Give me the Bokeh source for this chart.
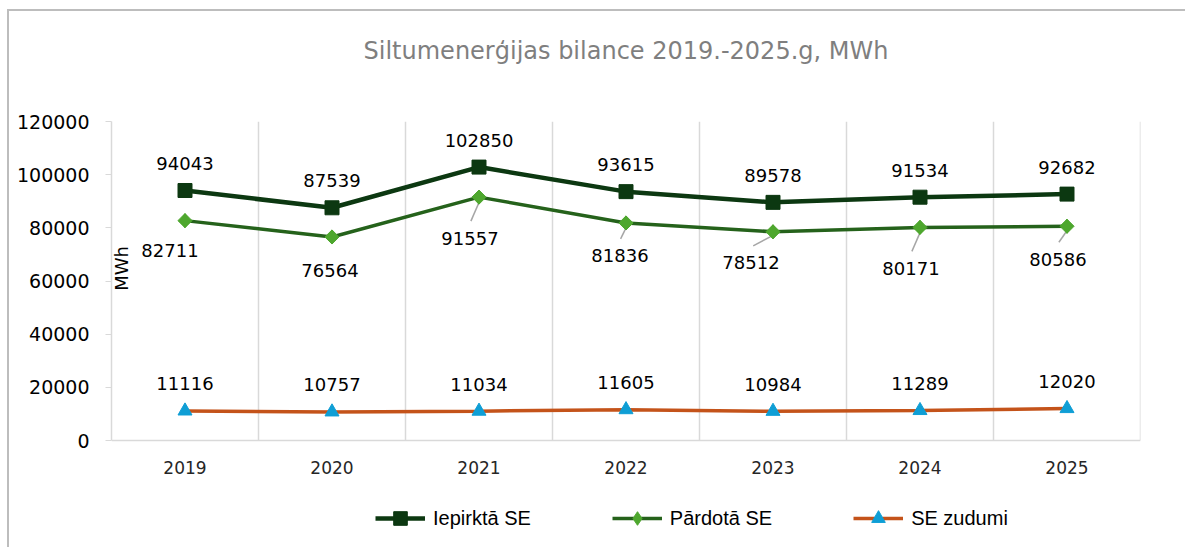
from bokeh.plotting import figure
from bokeh.models import (ColumnDataSource, Range1d, FixedTicker, Legend, LegendItem,
                          BasicTickFormatter, LinearAxis, Label, Span)
from bokeh.core.properties import value
from bokeh.embed import file_html
from bokeh.resources import INLINE

# ---- data ----
years = [2019, 2020, 2021, 2022, 2023, 2024, 2025]
year_labels = ["2019", "2020", "2021", "2022", "2023", "2024", "2025"]
iepirkta = [94043, 87539, 102850, 93615, 89578, 91534, 92682]
pardota = [82711, 76564, 91557, 81836, 78512, 80171, 80586]
zudumi = [11116, 10757, 11034, 11605, 10984, 11289, 12020]
y_ticks = [0, 20000, 40000, 60000, 80000, 100000, 120000]
series_names = ["Iepirktā SE", "Pārdotā SE", "SE zudumi"]
title_text = "Siltumenerģijas bilance 2019.-2025.g, MWh"
y_axis_label = "MWh"

# ---- styling / layout ----
W, H = 1178, 538
ML, MR, MT, MB = 102, 47, 110, 0
PLOT_H = 319                      # pixel height of the 0..120000 value band
EXTRA = H - MT - MB - PLOT_H      # room under the value band for year labels & legend
FONT = "DejaVu Sans"
c_iep_line, c_iep_mark = "#0c3811", "#0c3811"
c_par_line, c_par_mark = "#25621b", "#4ea72e"
c_zud_line, c_zud_mark = "#c4531a", "#0f9ed5"
grid_c = "#d9d9d9"

# label offsets for the "Pārdotā" series (pixels) and leader-line flags
par_dx = [-15, -2, -9, -6, -22, -9, -9]
par_dy = [30, 34, 41, 33, 31, 41, 33]
par_leader = [False, False, True, True, True, True, True]

y_lo = y_ticks[0] - (y_ticks[-1] - y_ticks[0]) * EXTRA / PLOT_H

p = figure(width=W, height=H, output_backend="svg", toolbar_location=None,
           x_axis_location=None,
           x_range=Range1d(years[0] - 0.5, years[-1] + 0.5),
           y_range=Range1d(y_lo, y_ticks[-1]),
           min_border_left=ML, min_border_right=MR, min_border_top=MT, min_border_bottom=MB,
           styles={"border-left": "2px solid #bdbdbd", "border-top": "2px solid #bdbdbd",
                   "margin-left": "7px", "margin-top": "9px"})
p.outline_line_color = None
p.background_fill_color = "white"

# title drawn as the label of a bare axis above the frame
title_axis = LinearAxis(ticker=FixedTicker(ticks=[]), axis_line_color=None,
                        major_tick_line_color=None, minor_tick_line_color=None,
                        axis_label=title_text, axis_label_text_font=FONT,
                        axis_label_text_font_size="24px", axis_label_text_font_style="normal",
                        axis_label_text_color="#7f7f7f", axis_label_standoff=57)
p.add_layout(title_axis, "above")

# y axis
p.yaxis.ticker = FixedTicker(ticks=y_ticks)
p.yaxis.bounds = (y_ticks[0], y_ticks[-1])
p.yaxis.formatter = BasicTickFormatter(use_scientific=False)
p.yaxis.axis_line_color = grid_c
p.yaxis.axis_line_width = 1.5
p.yaxis.major_tick_line_color = grid_c
p.yaxis.major_tick_out = 6
p.yaxis.major_tick_in = 0
p.yaxis.minor_tick_line_color = None
p.yaxis.major_label_text_font = FONT
p.yaxis.major_label_text_font_size = "19px"
p.yaxis.major_label_text_color = "#000000"
p.yaxis.major_label_standoff = 16

p.ygrid.grid_line_color = None
p.xgrid.grid_line_color = None

# category separators (vertical grid) and the category baseline at 0
sep_x = [y + 0.5 for y in years]
p.segment(sep_x, [y_ticks[0]] * len(sep_x), sep_x, [y_ticks[-1]] * len(sep_x),
          line_color=grid_c, line_width=1.5)
p.add_layout(Span(location=y_ticks[0], dimension="width", line_color=grid_c, line_width=1.5))

# category (year) labels under the baseline
p.text(years, [y_ticks[0]] * len(years), text=year_labels, y_offset=27,
       text_align="center", text_baseline="middle", text_font=value(FONT),
       text_font_size="17px", text_color="#262626")

# "MWh" axis title, drawn just inside the plot next to the axis line
p.add_layout(Label(x=10, y=EXTRA + 172, x_units="screen", y_units="screen", text=y_axis_label,
                   angle=90, angle_units="deg", text_align="center", text_baseline="middle",
                   text_font=FONT, text_font_size="18px", text_color="#000000"))

src = ColumnDataSource(dict(
    x=years, iep=iepirkta, par=pardota, zud=zudumi,
    iep_t=[str(v) for v in iepirkta], par_t=[str(v) for v in pardota],
    zud_t=[str(v) for v in zudumi], par_dx=par_dx, par_dy=par_dy))

# leader lines for Pārdotā labels (from marker toward label)
frame_w = W - ML - MR
px_x = (years[-1] - years[0] + 1) / frame_w
px_y = (y_ticks[-1] - y_ticks[0]) / PLOT_H
lx0, ly0, lx1, ly1 = [], [], [], []
for yr, v, dx, dy, f in zip(years, pardota, par_dx, par_dy, par_leader):
    if f:
        lx0.append(yr + 1 * px_x); ly0.append(v - 3 * px_y)
        lx1.append(yr + (dx * 0.9) * px_x); ly1.append(v - (dy - 17) * px_y)
p.segment(lx0, ly0, lx1, ly1, line_color="#a6a6a6", line_width=1.5)

# lines & markers
r1l = p.line("x", "iep", source=src, line_color=c_iep_line, line_width=4.5)
r1m = p.scatter("x", "iep", source=src, marker="square", size=14,
                fill_color=c_iep_mark, line_color=c_iep_mark)
r2l = p.line("x", "par", source=src, line_color=c_par_line, line_width=3.5)
r2d = p.scatter("x", "par", source=src, marker="diamond", size=14,
                fill_color=c_par_mark, line_color=c_par_mark)
r2m = p.scatter("x", "par", source=src, marker="square", size=10, angle=0.785398,
                fill_color=c_par_mark, line_color=c_par_mark)
r3l = p.line("x", "zud", source=src, line_color=c_zud_line, line_width=3.5)
r3m = p.scatter("x", "zud", source=src, marker="triangle", size=14,
                fill_color=c_zud_mark, line_color=c_zud_mark)

# data labels
p.text("x", "iep", text="iep_t", source=src, y_offset=-27, text_align="center",
       text_baseline="middle", text_font=value(FONT), text_font_size="18px", text_color="#000000")
p.text("x", "par", text="par_t", source=src, x_offset="par_dx", y_offset="par_dy",
       text_align="center", text_baseline="middle", text_font=value(FONT),
       text_font_size="18px", text_color="#000000")
p.text("x", "zud", text="zud_t", source=src, y_offset=-27, text_align="center",
       text_baseline="middle", text_font=value(FONT), text_font_size="18px", text_color="#000000")

legend = Legend(items=[LegendItem(label=series_names[0], renderers=[r1l, r1m]),
                       LegendItem(label=series_names[1], renderers=[r2l, r2d]),
                       LegendItem(label=series_names[2], renderers=[r3l, r3m])],
                orientation="horizontal", location=(264, 14),
                glyph_width=50, glyph_height=34, label_standoff=8, spacing=81,
                padding=0, margin=0, border_line_color=None, background_fill_alpha=0,
                label_text_font="Liberation Sans", label_text_font_size="20px",
                label_text_color="#000000")
p.add_layout(legend, "center")

open("out.html", "w").write(file_html(p, INLINE))
